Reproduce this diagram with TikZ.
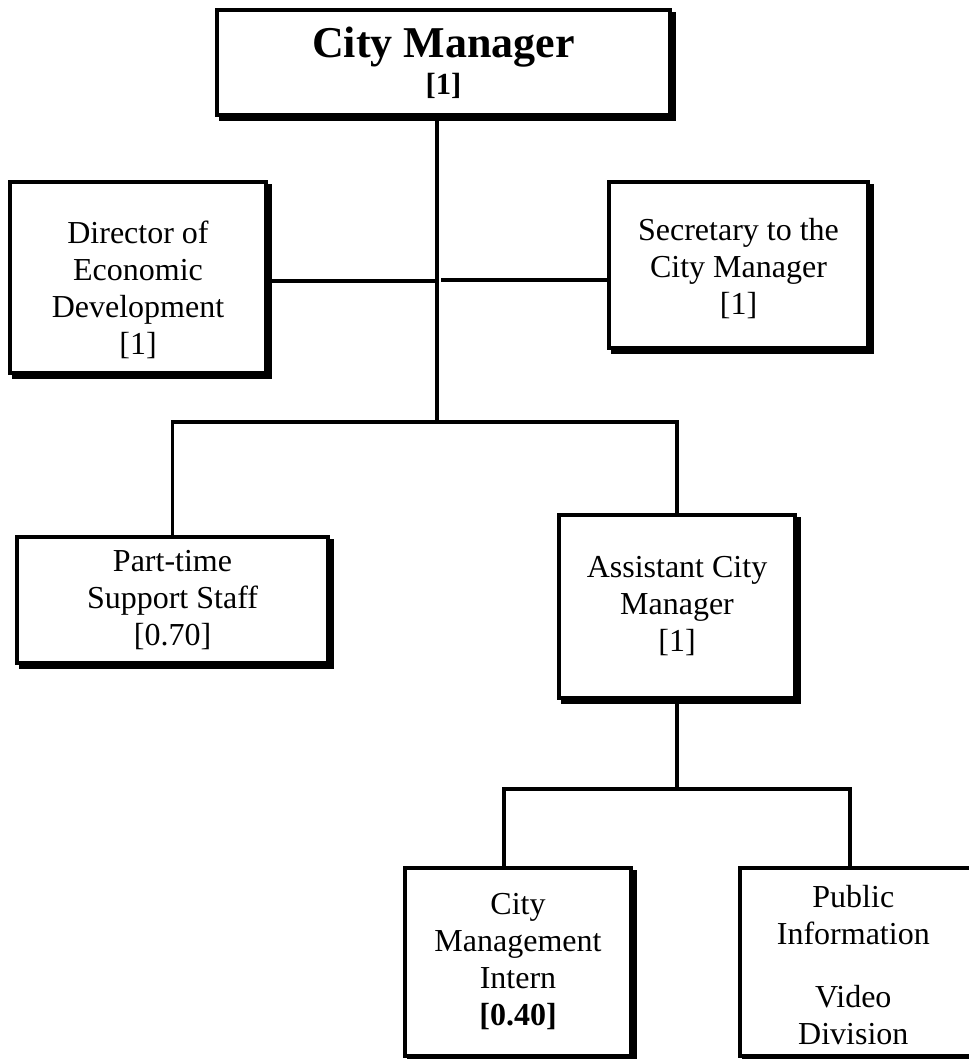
\documentclass[tikz,border=0pt]{standalone}
\usepackage{fontspec}
\setmainfont{Liberation Serif}
\usetikzlibrary{shadows}

\tikzset{
  boxtext/.style={align=center, font=\fontsize{24}{27.75}\selectfont},
  orgbox/.style={
    draw=black, line width=3.4pt, fill=white, boxtext,
    inner sep=2pt,
    drop shadow={shadow xshift=3pt, shadow yshift=-3pt, opacity=1,
                 fill=black, draw=black, line width=3.4pt}
  },
  conn/.style={draw=black, line width=2.9pt}
}

\begin{document}
\begin{tikzpicture}[x=0.75pt, y=-0.75pt]
  \useasboundingbox (0,0) rectangle (968,1059);

  % top of the chart
  \node[orgbox, minimum width=339.75pt, minimum height=78.75pt] (cm) at (443.5,62.5)
    {\bfseries\fontsize{33}{29}\selectfont City Manager\\
     \bfseries\fontsize{23}{29}\selectfont [1]};

  % staff reporting directly to the City Manager
  \node[orgbox, minimum width=192pt, minimum height=143.25pt,
        label={[boxtext, yshift=-9pt]center:{Director of\\Economic\\Development\\{[1]}}}]
    (dir) at (138,277.5) {};
  \node[orgbox, minimum width=194.25pt, minimum height=124.5pt,
        label={[boxtext, yshift=-3pt]center:{Secretary to the\\City Manager\\{[1]}}}]
    (sec) at (738.5,265) {};

  % second tier
  \node[orgbox, minimum width=233.25pt, minimum height=94.5pt] (pt) at (172.5,600)
    {Part-time\\Support Staff\\{[0.70]}};
  \node[orgbox, minimum width=177pt, minimum height=137.25pt] (acm) at (677,606.5)
    {Assistant City\\Manager\\{[1]}};

  % under the Assistant City Manager (the right box runs off the page edge)
  \node[orgbox, minimum width=169.5pt, minimum height=141pt] (int) at (518,962)
    {City\\Management\\Intern\\{\bfseries [0.40]}};
  \node[orgbox, minimum width=180pt, minimum height=141pt,
        label={[boxtext, xshift=-5pt, yshift=-2pt]center:{Public\\Information\\[19.5pt]Video\\Division}}]
    (pub) at (860,962) {};

  % junction points of the connector lines
  \coordinate (hub) at (437,422);
  \coordinate (dj)  at (437,281);
  \coordinate (sj)  at (441,280);
  \coordinate (ij)  at (504,789);
  \coordinate (pj)  at (850,789);

  \draw[conn] (cm.south -| hub) -- (hub);
  \draw[conn] (dj) -- (dj -| dir.east);
  \draw[conn] (sj) -- (sj -| sec.west);
  \draw[conn] (pt.north) -- (pt.north |- hub) -- (acm.north |- hub) -- (acm.north);
  \draw[conn] (acm.south) -- (acm.south |- ij);
  \draw[conn] (ij |- int.north) -- (ij) -- (pj) -- (pj |- pub.north);
\end{tikzpicture}
\end{document}
